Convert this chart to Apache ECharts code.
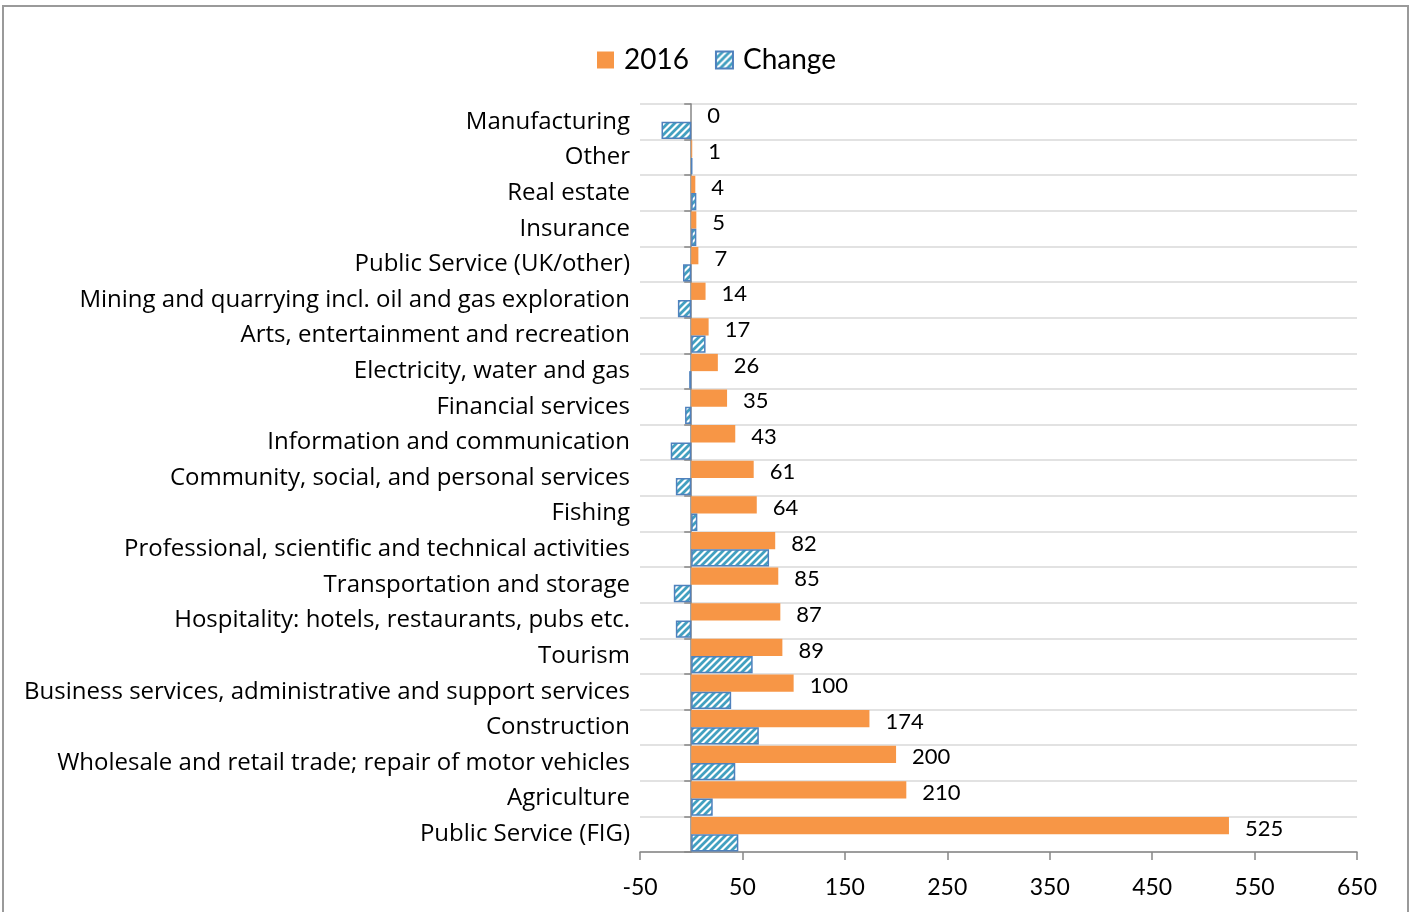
<!DOCTYPE html>
<html>
<head>
<meta charset="utf-8">
<script src="https://cdn.jsdelivr.net/npm/echarts@6/dist/echarts.min.js"></script>
<style>
  html, body { margin: 0; padding: 0; background: #fff; }
  #chart { width: 1411px; height: 912px; }
</style>
</head>
<body>
<div id="chart"></div>
<script>
// top to bottom, as in the figure
const sectors = [
  'Manufacturing',
  'Other',
  'Real estate',
  'Insurance',
  'Public Service (UK/other)',
  'Mining and quarrying incl. oil and gas exploration',
  'Arts, entertainment and recreation',
  'Electricity, water and gas',
  'Financial services',
  'Information and communication',
  'Community, social, and personal services',
  'Fishing',
  'Professional, scientific and technical activities',
  'Transportation and storage',
  'Hospitality: hotels, restaurants, pubs etc.',
  'Tourism',
  'Business services, administrative and support services',
  'Construction',
  'Wholesale and retail trade; repair of motor vehicles',
  'Agriculture',
  'Public Service (FIG)'
]
const values2016 = [0, 1, 4, 5, 7, 14, 17, 26, 35, 43, 61, 64, 82, 85, 87, 89, 100, 174, 200, 210, 525]
const valuesChange = [-29, 1, 5, 5, -8, -13, 14, -2, -6, -20, -15, 6, 76, -17, -15, 60, 39, 66, 43, 21, 46]

const font = 'Lato, "Open Sans", sans-serif'
const catFont = '"Open Sans", "Noto Sans", sans-serif'

// hatched fill for the "Change" bars
const makeHatch = () => {
  const s = 7
  const tile = document.createElement('canvas')
  tile.width = s
  tile.height = s
  const c = tile.getContext('2d')
  c.fillStyle = '#ffffff'
  c.fillRect(0, 0, s, s)
  c.strokeStyle = '#42a0c0'
  c.lineWidth = 2.8
  c.beginPath()
  c.moveTo(-1, s + 1); c.lineTo(s + 1, -1)
  c.moveTo(-1, 1); c.lineTo(1, -1)
  c.moveTo(s - 1, s + 1); c.lineTo(s + 1, s - 1)
  c.stroke()
  return { image: tile, repeat: 'repeat' }
}

const chart = echarts.init(document.getElementById('chart'), null, { renderer: 'canvas' })

chart.setOption({
  backgroundColor: '#fff',
  animation: false,
  graphic: [{
    type: 'rect',
    shape: { x: 3, y: 6, width: 1405, height: 930 },
    style: { fill: 'none', stroke: '#9a9a9a', lineWidth: 2 },
    silent: true
  }],
  legend: {
    top: 41,
    left: 592,
    icon: 'rect',
    itemWidth: 17,
    itemHeight: 17,
    itemGap: 26,
    textStyle: { fontFamily: font, fontSize: 28, color: '#000', padding: [0, 0, 0, 5] },
    data: ['2016', 'Change']
  },
  grid: { left: 640, right: 54, top: 104, bottom: 60, containLabel: false },
  xAxis: {
    type: 'value',
    min: -50,
    max: 650,
    interval: 100,
    axisLine: { show: true, lineStyle: { color: '#868686', width: 1.5 } },
    axisTick: { show: true, length: 8, lineStyle: { color: '#868686', width: 1.5 } },
    axisLabel: { color: '#000', fontFamily: font, fontSize: 23, margin: 24 },
    splitLine: { show: false }
  },
  yAxis: [
    {
      type: 'category',
      inverse: true,
      data: sectors,
      axisLine: { show: false, onZero: false },
      axisTick: { show: false },
      axisLabel: { color: '#000', fontFamily: catFont, fontSize: 24, margin: 10 },
      splitLine: { show: true, lineStyle: { color: '#d9d9d9', width: 1.5 } }
    },
    {
      type: 'category',
      inverse: true,
      data: sectors,
      position: 'left',
      axisLine: { show: true, onZero: true, lineStyle: { color: '#868686', width: 1.5 } },
      axisTick: { show: true, length: 7, lineStyle: { color: '#868686', width: 1.5 } },
      axisLabel: { show: false },
      splitLine: { show: false }
    }
  ],
  series: [
    {
      name: '2016',
      type: 'bar',
      yAxisIndex: 0,
      data: values2016,
      barGap: '0%',
      barCategoryGap: '3%',
      itemStyle: { color: '#f79646' },
      label: {
        show: true,
        position: 'right',
        distance: 16,
        offset: [0, 3],
        color: '#000',
        fontFamily: font,
        fontSize: 22
      },
      z: 3
    },
    {
      name: 'Change',
      type: 'bar',
      yAxisIndex: 0,
      data: valuesChange,
      itemStyle: { color: makeHatch(), borderColor: '#4f81bd', borderWidth: 1.5 },
      z: 3
    }
  ]
})
</script>
</body>
</html>
